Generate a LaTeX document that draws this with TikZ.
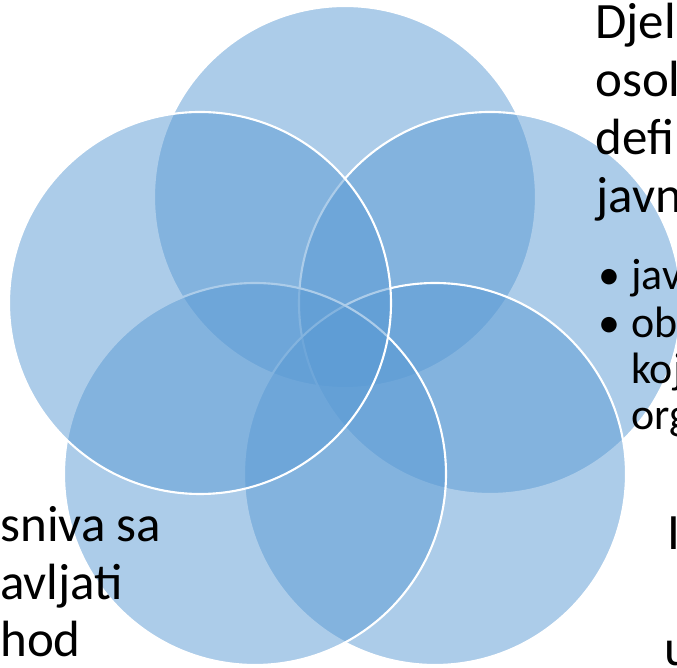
\documentclass[tikz,border=0pt]{standalone}
\usepackage{fontspec}
\setmainfont{Carlito}
\usepackage{xcolor}
\definecolor{petalblue}{HTML}{5B9BD5}

\begin{document}
\begin{tikzpicture}[x=0.02cm,y=-0.02cm,
    petal/.style={fill=petalblue, fill opacity=0.5, draw=white, line width=1.2pt},
    bigtxt/.style={anchor=base west, inner sep=0pt, font=\fontsize{29}{33}\selectfont},
    smalltxt/.style={anchor=base west, inner sep=0pt, font=\fontsize{25}{29}\selectfont}]
      \useasboundingbox (0,0) rectangle (677,668);
      \fill[white] (0,0) rectangle (677,668);
      \coordinate (ctop) at (345,197);
      \coordinate (cright) at (490,303);
      \coordinate (cbotright) at (435,474);
      \coordinate (cbotleft) at (255,474);
      \coordinate (cleft) at (200,303);
      \draw[petal] (ctop) circle (191);
      \draw[petal] (cright) circle (191);
      \draw[petal] (cbotright) circle (191);
      \draw[petal] (cbotleft) circle (191);
      \draw[petal] (cleft) circle (191);
      % text on the right
      \node[bigtxt] (djel) at (595,39) {Djel};
      \node[bigtxt] (osol) at (595,97) {osol};
      \node[bigtxt] (defi) at (595,155) {defi};
      \node[bigtxt] (javn) at (596,213) {javn};
      \node[smalltxt] (dotone) at (598,290) {•};
      \node[smalltxt] (jav) at (631,290) {jav};
      \node[smalltxt] (dottwo) at (598,338) {•};
      \node[smalltxt] (ob) at (631,338) {ob};
      \node[smalltxt] (koj) at (631,384) {koj};
      \node[smalltxt] (org) at (631,430) {org};
      % text on the left
      \node[bigtxt] (sniva) at (0,542) {sniva sa};
      \node[bigtxt] (avljati) at (0,600) {avljati};
      \node[bigtxt] (hod) at (0,657) {hod};
      % bottom right
      \node[bigtxt] (stem) at (667,550) {I};
      \node[bigtxt] (ucut) at (664,666) {u};
\end{tikzpicture}
\end{document}
